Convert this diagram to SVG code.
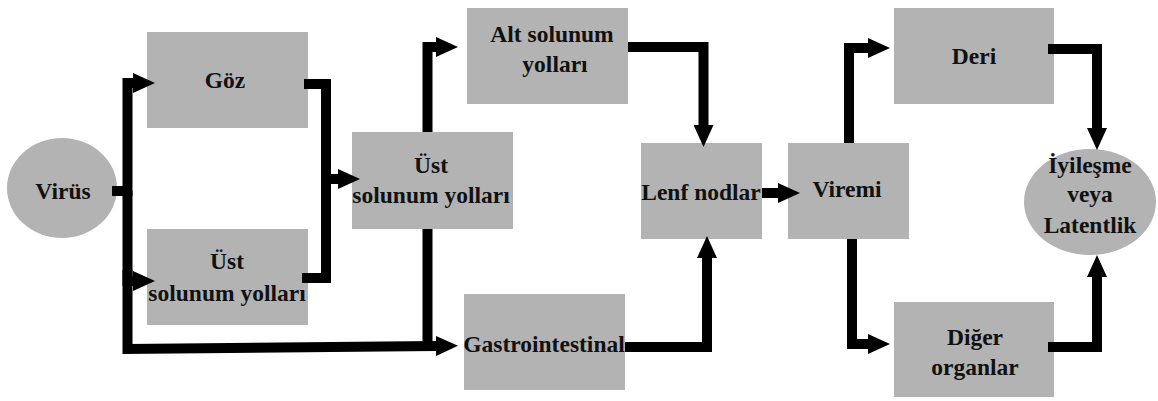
<svg xmlns="http://www.w3.org/2000/svg" width="1158" height="401" viewBox="0 0 1158 401">
<defs>
<style>
.box{fill:#b3b3b3;}
.t{font-family:'Liberation Serif','Times New Roman',Times,serif;font-weight:700;font-size:23.5px;fill:#111;text-anchor:middle;}
.c{fill:none;stroke:#000;stroke-width:10;stroke-linejoin:miter;stroke-linecap:butt;}
</style>
<marker id="ah" viewBox="0 0 22 20" refX="0" refY="10" markerWidth="22" markerHeight="20" markerUnits="userSpaceOnUse" orient="auto">
<path d="M0,0 L22,10 L0,20 z" fill="#000"/>
</marker>
</defs>
<rect width="1158" height="401" fill="#fff"/>
<g id="virus"><ellipse class="box" cx="62" cy="188" rx="55" ry="50"/><text class="t" x="63" y="199">Virüs</text></g>
<g id="goz"><rect class="box" x="147" y="32" width="161" height="96"/><text class="t" x="225" y="88">Göz</text></g>
<g id="ust1"><rect class="box" x="147" y="229" width="161" height="96"/><text class="t" x="227" y="269">Üst</text><text class="t" x="227" y="301">solunum yolları</text></g>
<g id="ust2"><rect class="box" x="352" y="132" width="161" height="97"/><text class="t" x="431" y="173">Üst</text><text class="t" x="431" y="203">solunum yolları</text></g>
<g id="alt"><rect class="box" x="467" y="8" width="161" height="96"/><text class="t" x="552" y="42">Alt solunum</text><text class="t" x="555" y="72">yolları</text></g>
<g id="gastro"><rect class="box" x="464" y="294" width="161" height="96"/><text class="t" x="544" y="352">Gastrointestinal</text></g>
<g id="lenf"><rect class="box" x="641" y="143" width="121" height="96"/><text class="t" x="701" y="200">Lenf nodlar</text></g>
<g id="viremi"><rect class="box" x="788" y="143" width="121" height="96"/><text class="t" x="847" y="197">Viremi</text></g>
<g id="deri"><rect class="box" x="894" y="8" width="160" height="96"/><text class="t" x="974" y="64">Deri</text></g>
<g id="diger"><rect class="box" x="894" y="302" width="160" height="95"/><text class="t" x="975" y="345">Diğer</text><text class="t" x="975" y="375">organlar</text></g>
<g id="iyilesme"><ellipse class="box" cx="1090" cy="202" rx="66" ry="53"/><text class="t" x="1090" y="173">İyileşme</text><text class="t" x="1090" y="202">veya</text><text class="t" x="1090" y="233">Latentlik</text></g>
<g id="connectors">
<path class="c" d="M112,191 H127.5 V83 H133" marker-end="url(#ah)"/>
<path class="c" d="M127.5,191 V281 H133" marker-end="url(#ah)"/>
<path class="c" d="M127.5,270 V349 L436,346" marker-end="url(#ah)"/>
<path class="c" d="M304,84 H326 V278 H302"/>
<path class="c" d="M326,179 H338" marker-end="url(#ah)"/>
<path class="c" d="M427.5,229 V347"/>
<path class="c" d="M427.5,132 V47 H436" marker-end="url(#ah)"/>
<path class="c" d="M628,47 H703.5 V125" marker-end="url(#ah)"/>
<path class="c" d="M625,347 H707 V258" marker-end="url(#ah)"/>
<path class="c" d="M762,193 H778" marker-end="url(#ah)"/>
<path class="c" d="M849,143 V48 H868" marker-end="url(#ah)"/>
<path class="c" d="M852,239 V344 H868" marker-end="url(#ah)"/>
<path class="c" d="M1048,49 H1097 V128" marker-end="url(#ah)"/>
<path class="c" d="M1048,347 H1097 V277" marker-end="url(#ah)"/>
</g>
</svg>
